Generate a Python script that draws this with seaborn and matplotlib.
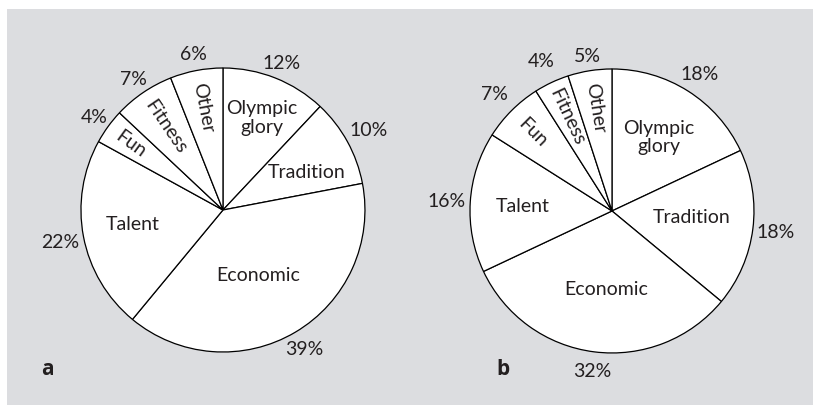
import numpy as np
import matplotlib
matplotlib.use("Agg")
import matplotlib.pyplot as plt
import seaborn as sns

# reasons, clockwise from 12 o'clock
reasons = ["Olympic\nglory", "Tradition", "Economic", "Talent", "Fun", "Fitness", "Other"]
share_a = [12, 10, 39, 22, 4, 7, 6]
share_b = [18, 18, 32, 16, 7, 4, 5]
panels = ["a", "b"]

sns.set_theme(style="white")
plt.rcParams['font.family'] = ['Lato', 'DejaVu Sans']

TXT = "#231f20"
BG = "#dcdde0"
FS = 14

# label placement: radius factor and small angle nudge (deg) per reason
inner_r_a = [0.71, 0.65, 0.52, 0.64, 0.80, 0.72, 0.74]
inner_d_a = [-1, -4, -2, -2, 0, 0, 0]
inner_r_b = [0.62, 0.56, 0.55, 0.63, 0.79, 0.74, 0.74]
inner_d_b = [0, 3, 3, 0, 0, 0, 0]
outer_r_a = [1.12, 1.17, 1.13, 1.17, 1.12, 1.12, 1.12]
outer_r_b = [1.15, 1.16, 1.13, 1.17, 1.17, 1.17, 1.11]
rotated = [False, False, False, False, True, True, True]


def draw_pie(ax, shares, inner_r, inner_d, outer_r):
    wedges, _ = ax.pie(shares, startangle=90, counterclock=False,
                       colors=["white"] * len(shares),
                       wedgeprops=dict(edgecolor="black", linewidth=0.9))
    for w, lab, s, ri, di, ro, rot in zip(wedges, reasons, shares, inner_r, inner_d,
                                          outer_r, rotated):
        ang = (w.theta1 + w.theta2) / 2
        mid = np.deg2rad(ang)
        mi = np.deg2rad(ang + di)
        ax.text(ri * np.cos(mi), ri * np.sin(mi), lab, ha="center", va="center",
                fontsize=FS, color=TXT, linespacing=1.1,
                rotation=(ang - 180) if rot else 0, rotation_mode="anchor")
        ax.text(ro * np.cos(mid), ro * np.sin(mid), "{}%".format(s), ha="center", va="center",
                fontsize=FS, color=TXT)
    ax.set_xlim(-1.3, 1.3)
    ax.set_ylim(-1.3, 1.3)
    ax.set_aspect("equal")
    ax.axis("off")


fig = plt.figure(figsize=(8.13, 4.06), dpi=100)
fig.patch.set_facecolor("white")
fig.patches.append(plt.Rectangle((7 / 813, 0), 1, 1 - 10 / 406, transform=fig.transFigure,
                                 facecolor=BG, edgecolor="none", zorder=-10))

ax_a = fig.add_axes([0.0472, 0.0256, 0.4541, 0.9094])
ax_b = fig.add_axes([0.5257, 0.0232, 0.4541, 0.9094])
ax_a.patch.set_alpha(0)
ax_b.patch.set_alpha(0)

draw_pie(ax_a, share_a, inner_r_a, inner_d_a, outer_r_a)
draw_pie(ax_b, share_b, inner_r_b, inner_d_b, outer_r_b)

for x, p in zip([47, 503], panels):
    fig.text(x / 813, 1 - 370 / 406, p, fontsize=FS + 1, fontweight="bold",
             family=["Open Sans", "DejaVu Sans"], color=TXT, ha="center", va="center")

fig.savefig("out.png", dpi=100, facecolor=fig.get_facecolor())
